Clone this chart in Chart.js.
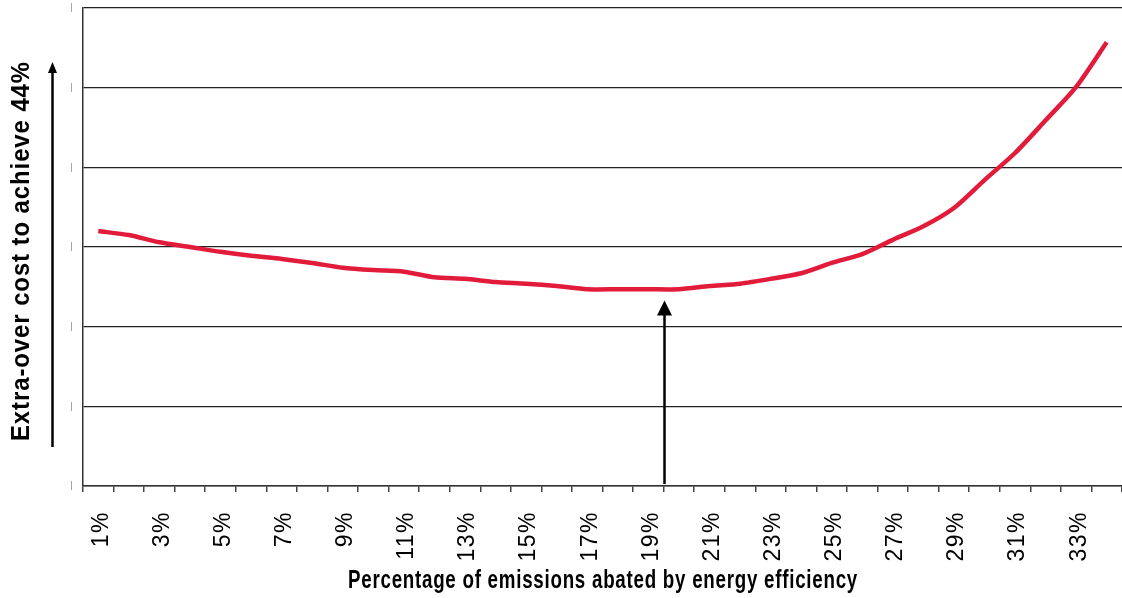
<!DOCTYPE html>
<html>
<head>
<meta charset="utf-8">
<script src="https://cdn.jsdelivr.net/npm/chart.js@4/dist/chart.umd.min.js"></script>
<style>
  html, body { margin: 0; padding: 0; background: #ffffff; }
  #wrap { width: 1122px; height: 598px; position: relative; }
</style>
</head>
<body>
<div id="wrap"><canvas id="chart"></canvas></div>
<script>
// Share of emissions abated by energy efficiency
const categories = ['1%','2%','3%','4%','5%','6%','7%','8%','9%','10%','11%','12%',
  '13%','14%','15%','16%','17%','18%','19%','20%','21%','22%','23%','24%',
  '25%','26%','27%','28%','29%','30%','31%','32%','33%','34%'];

// Extra-over cost of reaching the 44% target (relative units)
const extraCost = [3.20, 3.15, 3.06, 3.00, 2.94, 2.89, 2.85, 2.80, 2.74, 2.71, 2.69, 2.62,
  2.60, 2.56, 2.54, 2.51, 2.47, 2.47, 2.47, 2.47, 2.51, 2.54, 2.60, 2.67,
  2.80, 2.91, 3.09, 3.26, 3.49, 3.84, 4.18, 4.59, 5.01, 5.57];

// Only every other category carries a label
const labelledCategories = ['1%','3%','5%','7%','9%','11%','13%','15%','17%','19%','21%',
  '23%','25%','27%','29%','31%','33%'];

const yTickValues = [0, 1, 2, 3, 4, 5, 6];

const xTitle = 'Percentage of emissions abated by energy efficiency';
const yTitle = 'Extra-over cost to achieve 44%';

// Arrow marking the cheapest share: it stands on the boundary between these two categories
const optimumBetween = ['19%', '20%'];
const optimumArrowTip = 2.33;

const FONT = '"Liberation Sans", Arial, sans-serif';

function arrowUp(ctx, x, yBottom, yTip, headW, headH, lineW) {
  ctx.save();
  ctx.strokeStyle = '#000';
  ctx.fillStyle = '#000';
  ctx.lineWidth = lineW;
  ctx.beginPath();
  ctx.moveTo(x, yBottom);
  ctx.lineTo(x, yTip + headH - 1);
  ctx.stroke();
  ctx.beginPath();
  ctx.moveTo(x, yTip);
  ctx.lineTo(x - headW / 2, yTip + headH);
  ctx.lineTo(x + headW / 2, yTip + headH);
  ctx.closePath();
  ctx.fill();
  ctx.restore();
}

// Draw a condensed bold title squeezed to a given length
function condensedText(ctx, text, cx, cy, length, angle) {
  ctx.save();
  ctx.font = 'bold 25px ' + FONT;
  ctx.letterSpacing = '1px';
  ctx.textAlign = 'center';
  ctx.textBaseline = 'middle';
  ctx.fillStyle = '#000';
  const w = ctx.measureText(text).width;
  ctx.translate(cx, cy);
  ctx.rotate(angle);
  ctx.scale(length / w, 1);
  ctx.fillText(text, 0, 0);
  ctx.restore();
}

const annotations = {
  id: 'annotations',
  beforeDraw(chart) {
    chart.ctx.letterSpacing = '1.5px';
  },
  afterDatasetsDraw(chart) {
    const { ctx, scales } = chart;
    const i0 = categories.indexOf(optimumBetween[0]);
    const i1 = categories.indexOf(optimumBetween[1]);
    const x = scales.x.getPixelForValue((i0 + i1) / 2);
    arrowUp(ctx, Math.round(x) + 0.5, scales.y.getPixelForValue(0) - 2,
      scales.y.getPixelForValue(optimumArrowTip), 15, 15, 2.5);
  },
  afterDraw(chart) {
    const { ctx } = chart;
    ctx.letterSpacing = '0px';
    condensedText(ctx, xTitle, 603, 581, 510, 0);
    condensedText(ctx, yTitle, 22, 251, 380, -Math.PI / 2);
    arrowUp(ctx, 52.5, 447, 62, 9, 11, 2.5);
  }
};

new Chart(document.getElementById('chart'), {
  type: 'line',
  data: {
    labels: categories,
    datasets: [{
      data: extraCost,
      borderColor: '#e31b3b',
      borderWidth: 4.5,
      pointRadius: 0,
      tension: 0.25,
      fill: false
    }]
  },
  options: {
    responsive: true,
    maintainAspectRatio: false,
    animation: false,
    devicePixelRatio: 1,
    layout: { padding: { top: 8, left: 0, right: 0, bottom: 0 } },
    plugins: { legend: { display: false }, tooltip: { enabled: false } },
    scales: {
      x: {
        type: 'category',
        offset: true,
        afterFit(scale) {
          scale.height = 112;
          scale.paddingLeft = 0;
          scale.paddingRight = 0;
        },
        grid: {
          offset: true,
          drawOnChartArea: false,
          drawTicks: true,
          tickLength: 6,
          color: '#444',
          lineWidth: 1.5
        },
        border: { color: '#333', width: 1.5 },
        ticks: {
          autoSkip: false,
          minRotation: 90,
          maxRotation: 90,
          padding: 19,
          labelOffset: 3,
          color: '#000',
          font: { family: FONT, size: 23 },
          callback(value) {
            const lab = categories[value];
            return labelledCategories.includes(lab) ? lab : '';
          }
        }
      },
      y: {
        min: 0,
        max: 6,
        afterFit(scale) {
          scale.width = 83;
          scale.paddingTop = 0;
          scale.paddingBottom = 0;
        },
        afterBuildTicks(scale) { scale.ticks = yTickValues.map(v => ({ value: v })); },
        grid: {
          drawTicks: false,
          color: '#222',
          lineWidth: 1.2
        },
        border: { color: '#333', width: 1.5 },
        ticks: {
          padding: 9,
          color: '#888',
          font: { family: FONT, size: 9 },
          callback() { return '|'; }
        }
      }
    }
  },
  plugins: [annotations]
});
</script>
</body>
</html>
